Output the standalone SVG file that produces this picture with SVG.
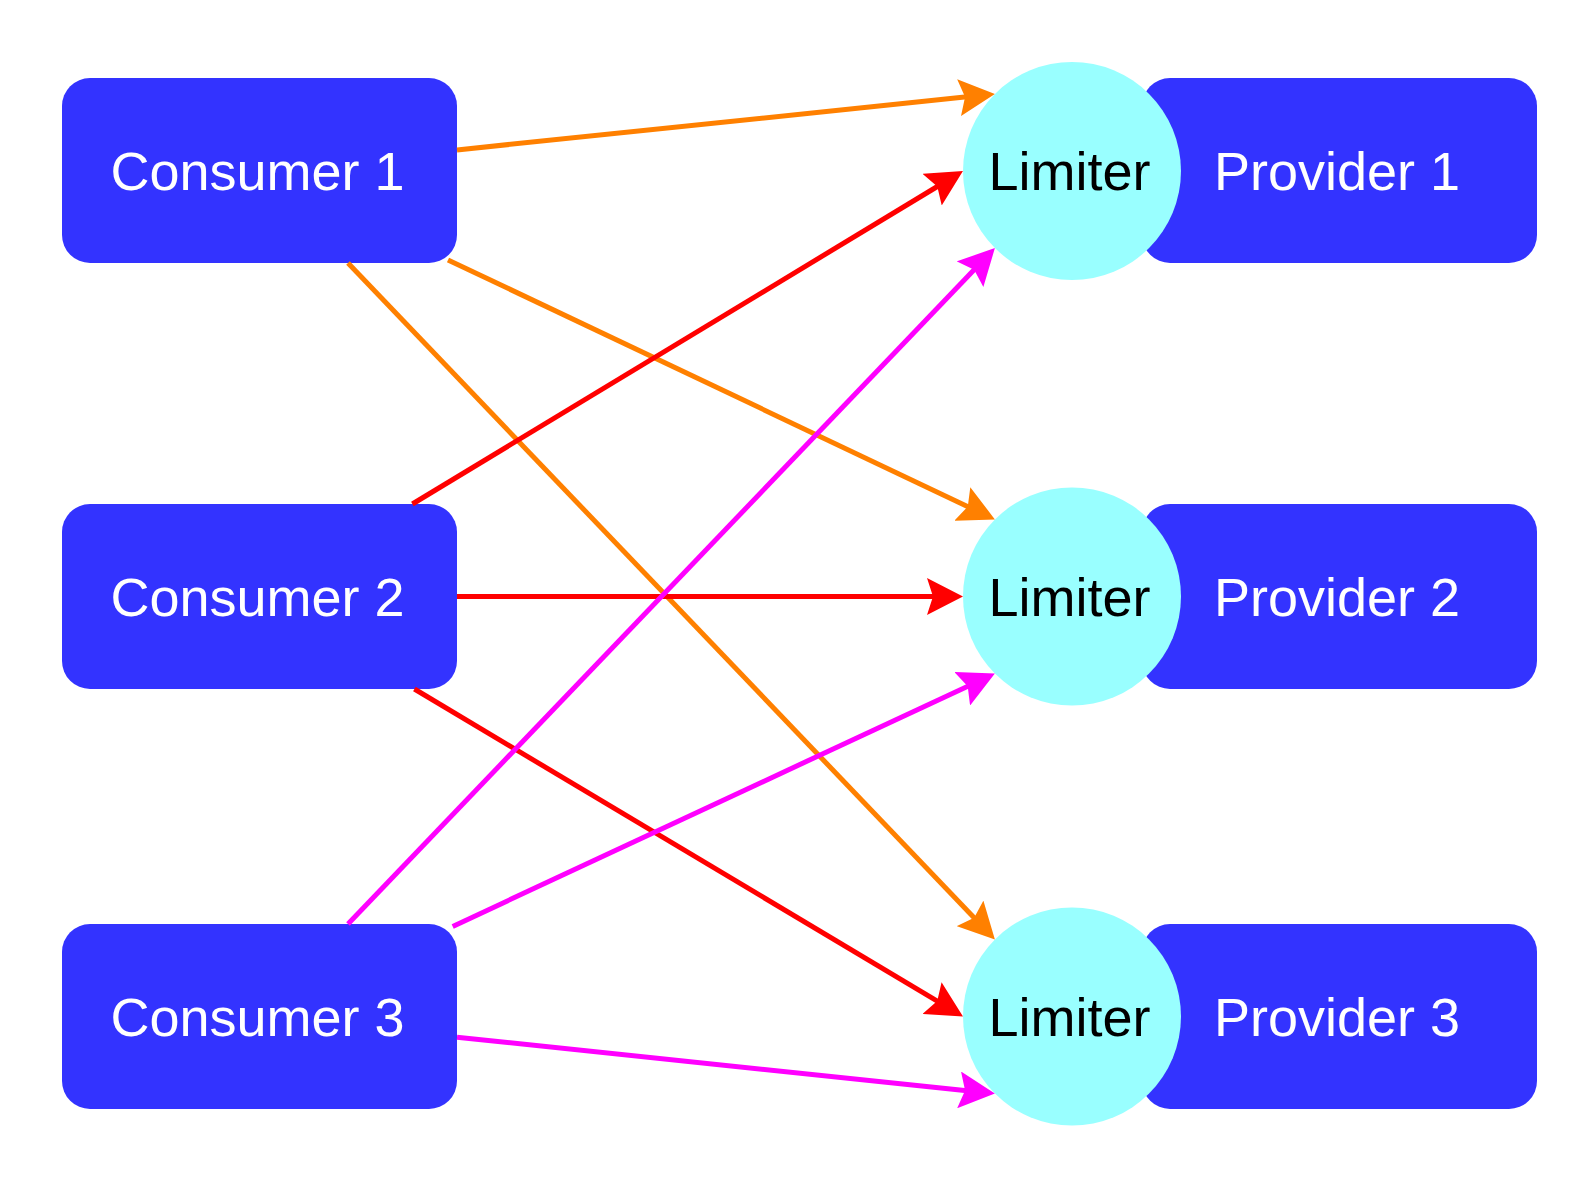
<svg xmlns="http://www.w3.org/2000/svg" width="1596" height="1185" viewBox="0 0 1596 1185">
<style>
.box{fill:#3333FF;}
.lim{fill:#99FFFF;}
.lbl{font-family:"Liberation Sans",Arial,sans-serif;font-size:54px;fill:#FFFFFF;text-anchor:middle;}
.lbl2{font-family:"Liberation Sans",Arial,sans-serif;font-size:54px;fill:#000000;text-anchor:middle;}
.e{fill:none;stroke-width:5;}
.o{stroke:#FF8000;marker-end:url(#ao);}
.r{stroke:#FF0000;marker-end:url(#ar);}
.m{stroke:#FF00FF;marker-end:url(#am);}
</style>
<defs>
<marker id="ao" markerUnits="userSpaceOnUse" viewBox="0 0 36 37" refX="8" refY="18.5" markerWidth="36" markerHeight="37" orient="auto"><path d="M0,0 L36,18.5 L0,37 L6,18.5 Z" fill="#FF8000"/></marker>
<marker id="ar" markerUnits="userSpaceOnUse" viewBox="0 0 36 37" refX="8" refY="18.5" markerWidth="36" markerHeight="37" orient="auto"><path d="M0,0 L36,18.5 L0,37 L6,18.5 Z" fill="#FF0000"/></marker>
<marker id="am" markerUnits="userSpaceOnUse" viewBox="0 0 36 37" refX="8" refY="18.5" markerWidth="36" markerHeight="37" orient="auto"><path d="M0,0 L36,18.5 L0,37 L6,18.5 Z" fill="#FF00FF"/></marker>
</defs>
<rect width="1596" height="1185" fill="#FFFFFF"/>
<g id="provider1"><rect class="box" x="1142" y="78" width="395" height="185" rx="28"/><text class="lbl" x="1337" y="189.5">Provider 1</text></g>
<g id="provider2"><rect class="box" x="1142" y="504" width="395" height="185" rx="28"/><text class="lbl" x="1337" y="615.5">Provider 2</text></g>
<g id="provider3"><rect class="box" x="1142" y="924" width="395" height="185" rx="28"/><text class="lbl" x="1337" y="1035.5">Provider 3</text></g>
<g id="limiter1"><circle class="lim" cx="1072" cy="171" r="109"/><text class="lbl2" x="1069.5" y="189.5">Limiter</text></g>
<g id="limiter2"><circle class="lim" cx="1072" cy="596.5" r="109"/><text class="lbl2" x="1069.5" y="615.5">Limiter</text></g>
<g id="limiter3"><circle class="lim" cx="1072" cy="1016.5" r="109"/><text class="lbl2" x="1069.5" y="1035.5">Limiter</text></g>
<g id="consumer1"><rect class="box" x="62" y="78" width="395" height="185" rx="28"/><text class="lbl" x="257.5" y="189.5">Consumer 1</text></g>
<g id="consumer2"><rect class="box" x="62" y="504" width="395" height="185" rx="28"/><text class="lbl" x="257.5" y="615.5">Consumer 2</text></g>
<g id="consumer3"><rect class="box" x="62" y="924" width="395" height="185" rx="28"/><text class="lbl" x="257.5" y="1035.5">Consumer 3</text></g>
<g id="connectors">
<line class="e o" x1="457" y1="149.9" x2="967.05" y2="96.8"/>
<line class="e o" x1="448" y1="259.9" x2="969.6" y2="507.4"/>
<line class="e o" x1="348" y1="263" x2="975.55" y2="919.2"/>
<line class="e r" x1="412.4" y1="504" x2="939" y2="185.5"/>
<line class="e r" x1="457" y1="596.5" x2="935" y2="596.5"/>
<line class="e r" x1="414.4" y1="689" x2="938.96" y2="1002.15"/>
<line class="e m" x1="348" y1="924" x2="975.54" y2="268.33"/>
<line class="e m" x1="452.7" y1="926.4" x2="969.5" y2="685.4"/>
<line class="e m" x1="457" y1="1037.2" x2="967.05" y2="1090.7"/>
</g>
</svg>
